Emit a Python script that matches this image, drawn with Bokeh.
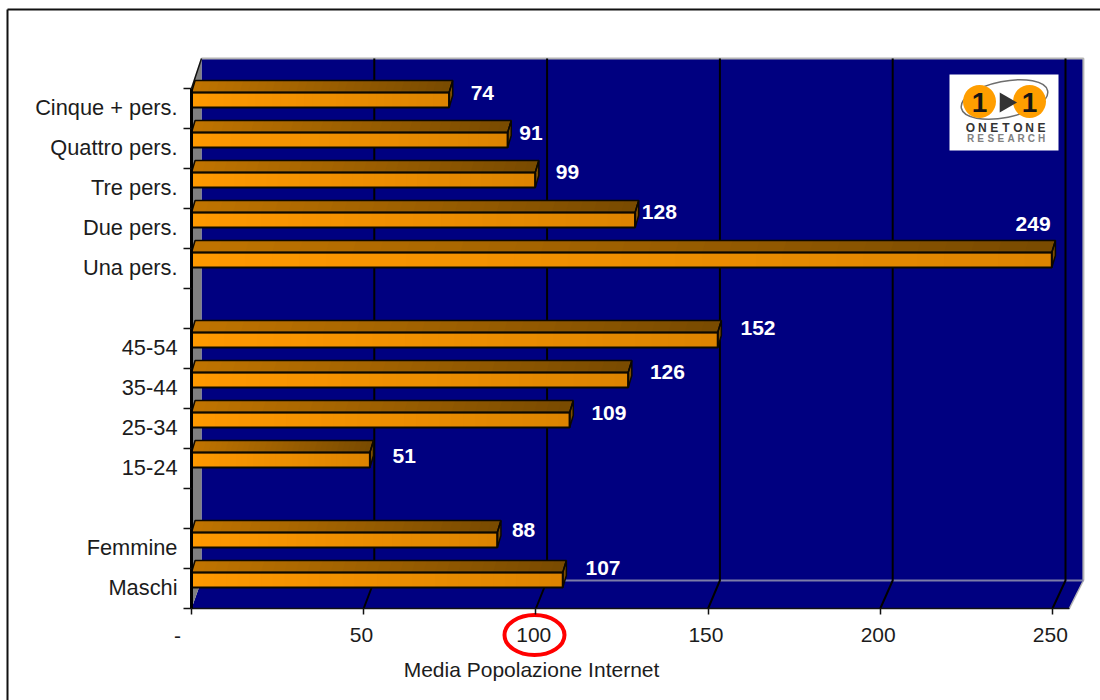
from bokeh.core.properties import value
from bokeh.embed import file_html
from bokeh.models import FixedTicker, Range1d
from bokeh.plotting import figure
from bokeh.resources import INLINE

# Index values, bottom row first; row 2 and row 7 are empty spacer rows.
categories = ["Maschi", "Femmine", "15-24", "25-34", "35-44", "45-54",
              "Una pers.", "Due pers.", "Tre pers.", "Quattro pers.", "Cinque + pers."]
rows = [0, 1, 3, 4, 5, 6, 8, 9, 10, 11, 12]
values = [107, 88, 51, 109, 126, 152, 249, 128, 99, 91, 74]
x_ticks = [0, 50, 100, 150, 200, 250]
x_title = "Media Popolazione Internet"

# Label nudges in pixels, one per bar.
label_dx = [43, 29, 37, 42, 42, 43, -16, 27, 35, 26, 36]
label_dy = [-21, -19, -13, -16, -17, -21, -45, -17, -17, -16, -16]

W, H = 1100, 700
PX_X, PX_Y = 3.444, 40.0          # pixels per data unit
ORIGIN_X, ORIGIN_Y = 191, 608     # pixel position of the data origin
N_ROWS = 13

NAVY, WALL = "#000080", "#808080"
EDGE, FLOOR_LINE = "#B4B4B4", "#7C7CA8"
TEXT = "#1C1C1C"
FONT = value("Liberation Sans")

FLOOR_END = 254.9                 # right corner of the floor, front edge
DEPTH_Y = 0.7                     # chart depth, in rows
WALL_TOP = 13.75
BAR_LOW, BAR_HIGH, BAR_TOP = 0.525, 0.9, 1.2   # within a row
BAR_DX = 1.05                     # bar depth, in value units
BAR_PLANE = 0.8                   # bars stand this far behind the front plane
ROW_LABEL_SHIFT = 0.53125         # row labels sit just above the row's middle
TICK_LABEL_SHIFT = 0.625          # tick labels sit just left of their tick


def back_x(v):
    """Where a value lands on the chart's rear wall."""
    return 2.9 + v * 1.0035


def to_x(px):
    return (px - ORIGIN_X) / PX_X


def to_y(px):
    return (ORIGIN_Y - px) / PX_Y


def shade(c0, c1, t):
    rgb = [round(a + (b - a) * t) for a, b in zip(c0, c1)]
    return "#%02X%02X%02X" % tuple(rgb)


p = figure(width=W, height=H, output_backend="svg", toolbar_location=None,
           x_range=Range1d(-ORIGIN_X / PX_X, (W - ORIGIN_X) / PX_X),
           y_range=Range1d(-(H - ORIGIN_Y) / PX_Y, ORIGIN_Y / PX_Y),
           min_border=0, outline_line_color=None, background_fill_color="white",
           border_fill_color="white")
p.grid.visible = False

# Frame around the page
p.line([to_x(7), to_x(7)], [to_y(9), to_y(700)], line_color="#111111", line_width=2)
p.line([to_x(7), to_x(1100)], [to_y(9), to_y(9)], line_color="#111111", line_width=2)

# Rear wall and floor
back_right = FLOOR_END + (back_x(250) - 250) + 0.3
p.patch([0, FLOOR_END, back_right, back_right, back_x(0), back_x(0), 0],
        [0, 0, DEPTH_Y, WALL_TOP, WALL_TOP, DEPTH_Y, 0], fill_color=NAVY, line_color=None)
p.line([back_x(0), back_right, back_right], [WALL_TOP, WALL_TOP, DEPTH_Y],
       line_color=EDGE, line_width=2)
p.line([back_right, FLOOR_END], [DEPTH_Y, 0], line_color=EDGE, line_width=1.5)

# Left side wall
p.patch([0, back_x(0), back_x(0), 0], [0, DEPTH_Y, WALL_TOP, N_ROWS],
        fill_color=WALL, line_color=None)
p.line([0, back_x(0)], [N_ROWS, WALL_TOP], line_color="#111111", line_width=1.5)

# Seam between floor and rear wall
p.line([back_x(0), back_right], [DEPTH_Y, DEPTH_Y], line_color=FLOOR_LINE, line_width=2)

# Gridlines: up the floor, then up the rear wall
for t in x_ticks[1:]:
    p.line([t, back_x(t), back_x(t)], [0, DEPTH_Y, WALL_TOP], line_color="#000000", line_width=2)

# Bars with their shaded faces; each slice runs to the bar's end so no seams show
STEPS = 32
FRONT = ((255, 153, 0), (220, 132, 0))
TOP = ((192, 116, 0), (120, 74, 0))
for row, v in zip(rows, values):
    low, high, top = row + BAR_LOW, row + BAR_HIGH, row + BAR_TOP
    end = v + BAR_PLANE
    for k in range(STEPS):
        a = end * k / STEPS
        t = (k + 0.5) / STEPS
        p.quad(left=a, right=end, bottom=low, top=high, fill_color=shade(*FRONT, t), line_color=None)
        p.patch([a, end, end + BAR_DX, a + BAR_DX], [high, high, top, top],
                fill_color=shade(*TOP, t), line_color=None)
    p.patch([end, end + BAR_DX, end + BAR_DX, end], [low, low + 0.3, top, high],
            fill_color="#7E4E00", line_color="#0C0800", line_width=1.5)
    p.patch([0, end, end + BAR_DX, BAR_DX], [high, high, top, top],
            fill_color=None, line_color="#0C0800", line_width=1.5)
    p.quad(left=0, right=end, bottom=low, top=high, fill_color=None, line_color="#0C0800", line_width=2)

# Value labels
p.text(x=values, y=[r + 0.5 for r in rows], text=[str(v) for v in values],
       x_offset=label_dx, y_offset=label_dy, text_color="white", text_font=FONT,
       text_font_style="bold", text_font_size="21px", text_align="center", text_baseline="middle")

# Axes
xaxis = p.xaxis[0]
xaxis.fixed_location = 0
xaxis.ticker = FixedTicker(ticks=[t - TICK_LABEL_SHIFT for t in x_ticks[1:]], minor_ticks=x_ticks)
xaxis.major_label_overrides = {t - TICK_LABEL_SHIFT: str(t) for t in x_ticks[1:]}
xaxis.major_tick_line_color = None
xaxis.major_tick_out, xaxis.major_tick_in = 0, 0
xaxis.minor_tick_out, xaxis.minor_tick_in = 6, 0
xaxis.minor_tick_line_color = "#111111"
xaxis.minor_tick_line_width = 1.5
xaxis.bounds = (0, FLOOR_END)
xaxis.axis_line_color = "#111111"
xaxis.axis_line_width = 1.5
xaxis.major_label_standoff = 13
xaxis.major_label_text_font = "Liberation Sans"
xaxis.major_label_text_font_size = "21px"
xaxis.major_label_text_color = TEXT

yaxis = p.yaxis[0]
yaxis.fixed_location = 0
yaxis.ticker = FixedTicker(ticks=[r + ROW_LABEL_SHIFT for r in rows], minor_ticks=list(range(N_ROWS + 1)))
yaxis.major_label_overrides = {r + ROW_LABEL_SHIFT: c for r, c in zip(rows, categories)}
yaxis.major_tick_line_color = None
yaxis.major_tick_out, yaxis.major_tick_in = 0, 0
yaxis.minor_tick_out, yaxis.minor_tick_in = 8, 0
yaxis.minor_tick_line_color = "#111111"
yaxis.minor_tick_line_width = 1.5
yaxis.bounds = (0, N_ROWS)
yaxis.axis_line_color = "#000000"
yaxis.axis_line_width = 3
yaxis.major_label_standoff = 6
yaxis.major_label_text_font = "Liberation Sans"
yaxis.major_label_text_font_size = "21.8px"
yaxis.major_label_text_color = TEXT

# The zero of the value axis prints as a dash, set off to the left
p.text(x=[0], y=[to_y(635)], text=["-"], x_offset=[-14], text_color=TEXT, text_font=FONT,
       text_font_size="21px", text_align="center", text_baseline="middle")

# Axis title
p.text(x=[to_x(531)], y=[to_y(669)], text=[x_title], text_color=TEXT, text_font=FONT,
       text_font_size="21px", text_align="center", text_baseline="middle")

# Ring around the reference value
p.ellipse(x=[to_x(534)], y=[to_y(634.5)], width=60, height=40, width_units="screen", height_units="screen",
          fill_color=None, line_color="#FF0000", line_width=4)

# Logo block
p.quad(left=to_x(949), right=to_x(1058), top=to_y(74), bottom=to_y(150),
       fill_color="white", line_color=None)
p.ellipse(x=[to_x(1004)], y=[to_y(99)], width=88, height=36, angle=0.2,
          width_units="screen", height_units="screen",
          fill_color=None, line_color="#6E6E6E", line_width=1.5)
p.scatter(x=[to_x(979), to_x(1029)], y=[to_y(101), to_y(101)], size=33, marker="circle",
          fill_color="#FF9E00", line_color=None)
p.scatter(x=[to_x(1005)], y=[to_y(102)], size=20, marker="triangle", angle=-1.5708,
          fill_color="#333333", line_color=None)
p.text(x=[to_x(979), to_x(1029)], y=[to_y(102), to_y(102)], text=["1", "1"], text_color="#141414",
       text_font=FONT, text_font_style="bold", text_font_size="28px",
       text_align="center", text_baseline="middle")
for word, y_px, size, color in [("ONETONE", 127, "12px", "#333333"), ("RESEARCH", 138, "10px", "#808080")]:
    n = len(word)
    xs = [to_x(970 + 71 * i / (n - 1)) for i in range(n)]
    p.text(x=xs, y=[to_y(y_px)] * n, text=list(word), text_color=color, text_font=FONT,
           text_font_style="bold", text_font_size=size, text_align="center", text_baseline="middle")

open("out.html", "w").write(file_html(p, INLINE))
